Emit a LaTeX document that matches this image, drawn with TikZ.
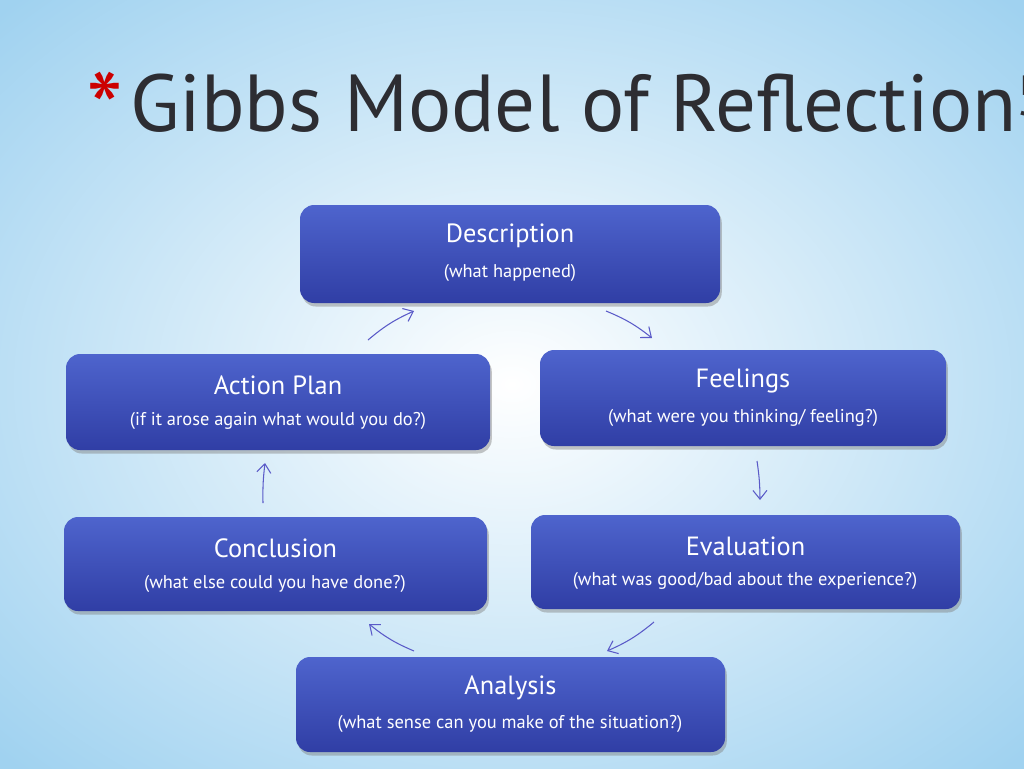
\documentclass[tikz,border=0pt]{standalone}
\usepackage{fontspec}
\setmainfont{PT Sans}
\usetikzlibrary{shadows,arrows.meta}
\definecolor{bgout}{RGB}{160,210,240}
\definecolor{btop}{RGB}{78,100,205}
\definecolor{bbot}{RGB}{48,62,165}
\definecolor{arr}{RGB}{90,90,200}
\definecolor{ttl}{RGB}{45,45,50}
\begin{document}
\begin{tikzpicture}[x=0.02cm,y=-0.02cm,
  box/.style={draw=none,rounded corners=8pt,top color=btop,bottom color=bbot,drop shadow={opacity=0.45,shadow xshift=1pt,shadow yshift=-2pt}},
  hd/.style={text=white,font=\fontsize{15}{18}\selectfont},
  sub/.style={text=white,font=\fontsize{10.5}{12}\selectfont},
  cyc/.style={draw=arr,line width=0.6pt,-{Straight Barb[length=5pt,width=8pt]}}]
\useasboundingbox (0,0) rectangle (1024,768);
\shade[inner color=white,outer color=bgout] (-200,-150) rectangle (1224,918);
\node[text=red!80!black,font=\fontsize{60}{60}\selectfont] (star) at (105,110) {*};
\node[text=ttl,anchor=west,font=\fontsize{46}{50}\selectfont] (title) at (124,103) {Gibbs Model of Reflection\textsuperscript{5}};
\newcommand\gbox[6]{%
  \path[box] (#1,#2) rectangle (#3,#4);
  \node[hd] (#6h) at ({(#1+#3)/2},{#2+31}) {#5};}
\gbox{300}{205}{720}{303}{Description}{d}
\node[sub] (ds) at (510,273) {(what happened)};
\gbox{66}{354}{490}{450}{Action Plan}{a}
\node[sub] (as) at (278,421) {(if it arose again what would you do?)};
\gbox{540}{350}{946}{446}{Feelings}{f}
\node[sub] (fs) at (743,418) {(what were you thinking/ feeling?)};
\gbox{64}{517}{487}{611}{Conclusion}{c}
\node[sub] (cs) at (275,584) {(what else could you have done?)};
\gbox{531}{515}{960}{609}{Evaluation}{e}
\node[sub] (es) at (745,581) {(what was good/bad about the experience?)};
\gbox{296}{657}{725}{752}{Analysis}{n}
\node[sub] (ns) at (510,724) {(what sense can you make of the situation?)};
\coordinate (a1) at (368,340); \coordinate (a2) at (414,311);
\coordinate (b1) at (606,311); \coordinate (b2) at (652,338);
\coordinate (c1) at (757,461); \coordinate (c2) at (760,500);
\coordinate (d1) at (654,622); \coordinate (d2) at (607,651);
\coordinate (e1) at (414,651); \coordinate (e2) at (369,624);
\coordinate (f1) at (263,503); \coordinate (f2) at (265,463);
\draw[cyc] (a1) to[bend left=8] (a2);
\draw[cyc] (b1) to[bend left=8] (b2);
\draw[cyc] (c1) to[bend left=4] (c2);
\draw[cyc] (d1) to[bend left=8] (d2);
\draw[cyc] (e1) to[bend left=8] (e2);
\draw[cyc] (f1) to[bend left=4] (f2);
\end{tikzpicture}
\end{document}
